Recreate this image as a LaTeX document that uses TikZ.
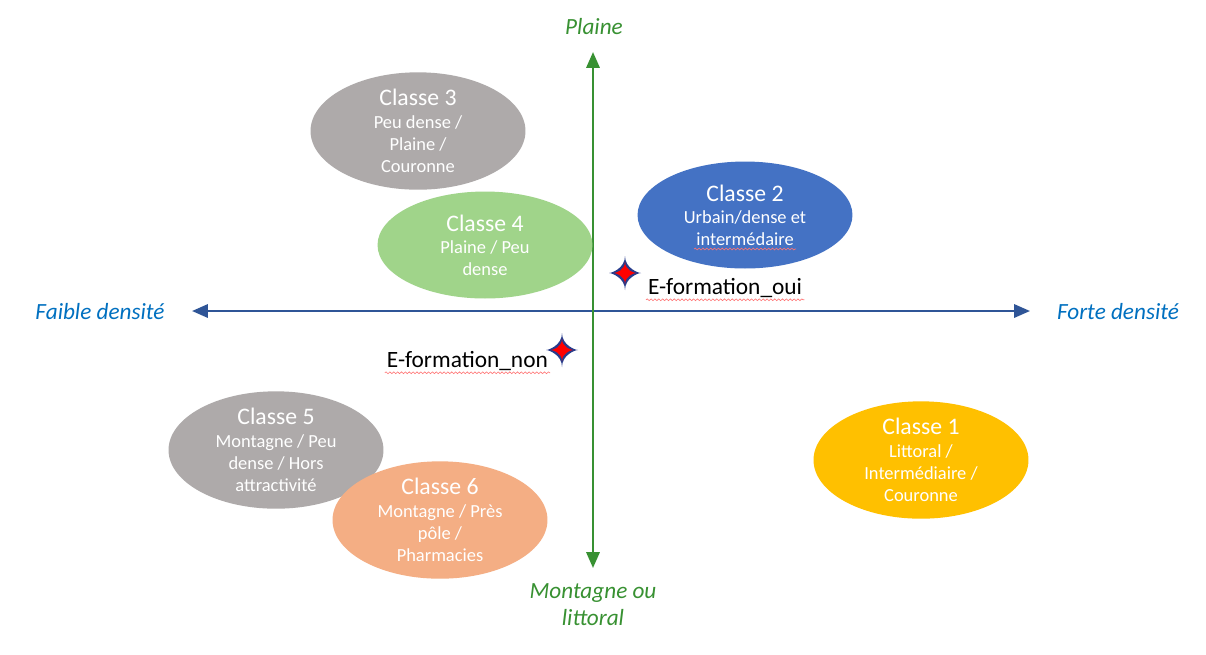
\documentclass[tikz,border=0pt]{standalone}
\usepackage{fontspec}
\setmainfont{Carlito}
\usepackage{tikz}
\usetikzlibrary{positioning, arrows.meta, shapes.geometric, decorations.pathmorphing}
\definecolor{AxeBleu}{RGB}{47,85,151}
\definecolor{AxeVert}{RGB}{56,145,50}
\definecolor{TexteBleu}{RGB}{0,112,192}
\definecolor{ClGris}{RGB}{174,170,170}
\definecolor{ClVert}{RGB}{160,212,138}
\definecolor{ClBleu}{RGB}{68,114,196}
\definecolor{ClOrange}{RGB}{244,174,132}
\definecolor{ClJaune}{RGB}{255,192,0}
\definecolor{EtoileBleu}{RGB}{40,60,140}
\tikzset{
  classe/.style={ellipse, draw=none, minimum width=4.3cm, minimum height=2.14cm, inner sep=0pt,
    align=center, text=white, font=\fontsize{10.5}{12.6}\selectfont},
  cgris/.style={classe, fill=ClGris},
  cvert/.style={classe, fill=ClVert},
  cbleu/.style={classe, fill=ClBleu},
  corange/.style={classe, fill=ClOrange},
  cjaune/.style={classe, fill=ClJaune},
  axeh/.style={{Triangle[length=9pt,width=7.5pt]}-{Triangle[length=9pt,width=7.5pt]}, line width=1.4pt, AxeBleu},
  axev/.style={{Triangle[length=9pt,width=7.5pt]}-{Triangle[length=9pt,width=7.5pt]}, line width=1.4pt, AxeVert},
  labh/.style={font=\fontsize{13.2}{15}\selectfont\itshape, text=TexteBleu},
  labv/.style={font=\fontsize{13.2}{15.5}\selectfont\itshape, text=AxeVert, align=center},
  eform/.style={font=\fontsize{13.3}{15}\selectfont, text=black, inner sep=1pt},
  souligne/.style={red!55, line width=0.35pt, decorate, decoration={snake, amplitude=0.5pt, segment length=2.2pt}},
}
\newcommand{\titre}[1]{{\fontsize{13.5}{16.5}\selectfont #1}}
\newcommand{\etoile}[1]{%
  \fill[EtoileBleu] (#1) ++(0,-17) .. controls +(0,12) and +(-3,0) .. ++(16,17)
    .. controls +(-3,0) and +(0,-12) .. ++(-16,17)
    .. controls +(0,-12) and +(3,0) .. ++(-16,-17)
    .. controls +(3,0) and +(0,12) .. cycle;
  \fill[red] (#1) ++(0,-11) .. controls +(0,8) and +(-2,0) .. ++(11,11)
    .. controls +(-2,0) and +(0,-8) .. ++(-11,11)
    .. controls +(0,-8) and +(2,0) .. ++(-11,-11)
    .. controls +(2,0) and +(0,8) .. cycle;}

\begin{document}
\begin{tikzpicture}[x=0.02cm, y=-0.02cm]
  \useasboundingbox[fill=white] (0,0) rectangle (1206,654);

  % axes
  \coordinate (gauche) at (192,311);
  \coordinate (droite) at (1030,311);
  \coordinate (haut) at (593,52);
  \coordinate (bas) at (593,568);
  \draw[axeh] (gauche) -- (droite);
  \draw[axev] (bas) -- (haut);
  \node[labh] (faible) at (100,312) {Faible densité};
  \node[labh] (forte) at (1118,312) {Forte densité};
  \node[labv] (plaine) at (594,27) {Plaine};
  \node[labv] (montagne) at (593,605) {Montagne ou\\littoral};

  % classes
  \node[cgris] (c3) at (418,131) {\titre{Classe 3}\\Peu dense /\\Plaine /\\Couronne};
  \node[cvert] (c4) at (485,245) {\titre{Classe 4}\\Plaine / Peu\\dense};
  \node[cbleu] (c2) at (745,215) {\titre{Classe 2}\\Urbain/dense et\\intermédaire};
  \node[cgris] (c5) at (276,450) {\titre{Classe 5}\\Montagne / Peu\\dense / Hors\\attractivité};
  \node[corange] (c6) at (440,520) {\titre{Classe 6}\\Montagne / Près\\pôle /\\Pharmacies};
  \node[cjaune] (c1) at (921,460) {\titre{Classe 1}\\Littoral /\\Intermédiaire /\\Couronne};
  \draw[souligne] (694,249) -- (796,249);

  % modalites
  \coordinate (oui) at (625,273);
  \coordinate (non) at (562,350);
  \etoile{oui}
  \etoile{non}
  \node[eform, anchor=west] (eoui) at (646,288) {E-formation\_oui};
  \node[eform, anchor=east] (enon) at (550,361) {E-formation\_non};
  \draw[souligne] (eoui.south west) -- (eoui.south east);
  \draw[souligne] (enon.south west) -- (enon.south east);
\end{tikzpicture}
\end{document}
